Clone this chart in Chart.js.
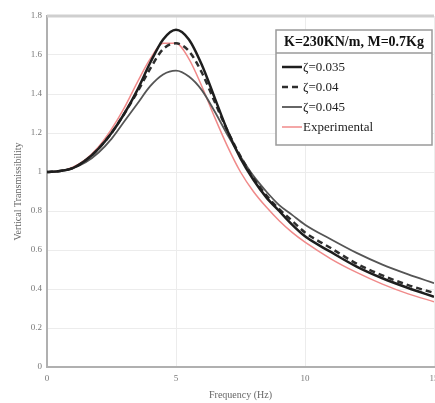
<!DOCTYPE html>
<html>
<head>
<meta charset="utf-8">
<script src="https://cdn.jsdelivr.net/npm/chart.js@4.4.1/dist/chart.umd.min.js"></script>
<style>
  html, body { margin: 0; padding: 0; background: #fff; }
  #wrap { width: 435px; height: 403px; }
</style>
</head>
<body>
<div id="wrap"><canvas id="chartTrans" width="435" height="403"></canvas></div>
<script>
// Fréquences (Hz)
const frequences = [0, 0.5, 1, 1.5, 2, 2.5, 3, 3.5, 4, 4.5, 5, 5.5, 6, 6.5, 7, 7.5, 8, 8.5, 9, 9.5, 10, 11, 12, 13, 14, 15];

// Transmissibilité verticale
const zeta035 = [1.0, 1.005, 1.02, 1.06, 1.12, 1.20, 1.30, 1.42, 1.56, 1.68, 1.73, 1.68, 1.55, 1.38, 1.21, 1.07, 0.96, 0.87, 0.80, 0.73, 0.67, 0.59, 0.515, 0.455, 0.405, 0.36];
const zeta04  = [1.0, 1.005, 1.02, 1.06, 1.12, 1.20, 1.30, 1.41, 1.53, 1.63, 1.66, 1.62, 1.51, 1.36, 1.21, 1.08, 0.97, 0.88, 0.81, 0.75, 0.69, 0.61, 0.53, 0.47, 0.42, 0.38];
const zeta045 = [1.0, 1.005, 1.02, 1.05, 1.10, 1.17, 1.26, 1.35, 1.44, 1.50, 1.52, 1.49, 1.42, 1.31, 1.19, 1.08, 0.98, 0.90, 0.83, 0.78, 0.73, 0.655, 0.585, 0.525, 0.475, 0.43];
const experimental = [1.0, 1.005, 1.025, 1.065, 1.13, 1.22, 1.33, 1.46, 1.58, 1.66, 1.66, 1.58, 1.44, 1.28, 1.13, 1.00, 0.90, 0.82, 0.75, 0.69, 0.64, 0.555, 0.485, 0.425, 0.375, 0.335];

const xTicks = [0, 5, 10, 15];
const legendTitle = 'K=230KN/m, M=0.7Kg';
const legendLabels = ['ζ=0.035', 'ζ=0.04', 'ζ=0.045', 'Experimental'];

function toPoints(values) {
    return values.map((v, i) => ({ x: frequences[i], y: v }));
}

const serif = '"Liberation Serif", "Times New Roman", serif';

// Légende encadrée dessinée à la main (comme dans la figure)
const legendBox = {
    id: 'legendBox',
    afterDraw(chart) {
        const ctx = chart.ctx;
        const area = chart.chartArea;
        ctx.save();
        // bord supérieur du cadre
        ctx.strokeStyle = '#cfcfcf';
        ctx.lineWidth = 3;
        ctx.beginPath();
        ctx.moveTo(area.left, area.top);
        ctx.lineTo(area.right, area.top);
        ctx.stroke();

        const x0 = 276, y0 = 30, w = 156, h = 115;
        ctx.fillStyle = '#fff';
        ctx.fillRect(x0, y0, w, h);
        ctx.strokeStyle = '#9a9a9a';
        ctx.lineWidth = 1.5;
        ctx.strokeRect(x0, y0, w, h);
        ctx.beginPath();
        ctx.moveTo(x0, y0 + 23);
        ctx.lineTo(x0 + w, y0 + 23);
        ctx.stroke();

        ctx.fillStyle = '#111';
        ctx.font = 'bold 14px ' + serif;
        ctx.textAlign = 'center';
        ctx.textBaseline = 'middle';
        ctx.fillText(legendTitle, x0 + w / 2, y0 + 12);

        ctx.textAlign = 'left';
        ctx.font = '13px ' + serif;
        chart.data.datasets.forEach((ds, i) => {
            const yy = y0 + 37 + i * 20;
            ctx.strokeStyle = ds.borderColor;
            ctx.lineWidth = ds.borderWidth;
            ctx.setLineDash(ds.borderDash || []);
            ctx.beginPath();
            ctx.moveTo(x0 + 6, yy);
            ctx.lineTo(x0 + 26, yy);
            ctx.stroke();
            ctx.setLineDash([]);
            ctx.fillStyle = '#222';
            ctx.fillText(legendLabels[i], x0 + 27, yy + 1);
        });
        ctx.restore();
    }
};

const canvas = document.getElementById('chartTrans');

new Chart(canvas, {
    type: 'line',
    data: {
        datasets: [
            { label: legendLabels[0], data: toPoints(zeta035), borderColor: '#1e1e1e', borderWidth: 2.5 },
            { label: legendLabels[1], data: toPoints(zeta04), borderColor: '#2e2e2e', borderWidth: 2.5, borderDash: [6, 4] },
            { label: legendLabels[2], data: toPoints(zeta045), borderColor: '#555555', borderWidth: 1.8 },
            { label: legendLabels[3], data: toPoints(experimental), borderColor: '#f08a8a', borderWidth: 1.5 }
        ]
    },
    options: {
        responsive: false,
        animation: false,
        layout: { padding: { left: 0, right: 1, top: 16, bottom: 0 } },
        elements: {
            point: { radius: 0 },
            line: { cubicInterpolationMode: 'monotone' }
        },
        plugins: {
            legend: { display: false },
            tooltip: { enabled: false }
        },
        scales: {
            x: {
                type: 'linear',
                min: 0,
                max: 15,
                afterBuildTicks: scale => { scale.ticks = xTicks.map(v => ({ value: v })); },
                afterFit: scale => { scale.height = 36; scale.paddingRight = 0; scale.paddingLeft = 0; },
                grid: { color: '#ececec', drawTicks: false },
                border: { color: '#b0b0b0', width: 2 },
                ticks: { color: '#777', font: { family: serif, size: 9 }, padding: 6, maxRotation: 0 },
                title: { display: true, text: 'Frequency (Hz)', color: '#666', font: { family: serif, size: 10 }, padding: { top: 0, bottom: 2 } }
            },
            y: {
                min: 0,
                max: 1.8,
                afterFit: scale => { scale.width = 47; scale.paddingTop = 0; scale.paddingBottom = 0; },
                grid: { color: '#ececec', drawTicks: false },
                border: { color: '#b0b0b0', width: 2 },
                ticks: { stepSize: 0.2, color: '#777', font: { family: serif, size: 9 }, padding: 5,
                         callback: v => Math.round(v * 10) / 10 },
                title: { display: true, text: 'Vertical Transmissibility', color: '#666', font: { family: serif, size: 10 }, padding: { top: 12, bottom: 4 } }
            }
        }
    },
    plugins: [legendBox]
});
</script>
</body>
</html>
